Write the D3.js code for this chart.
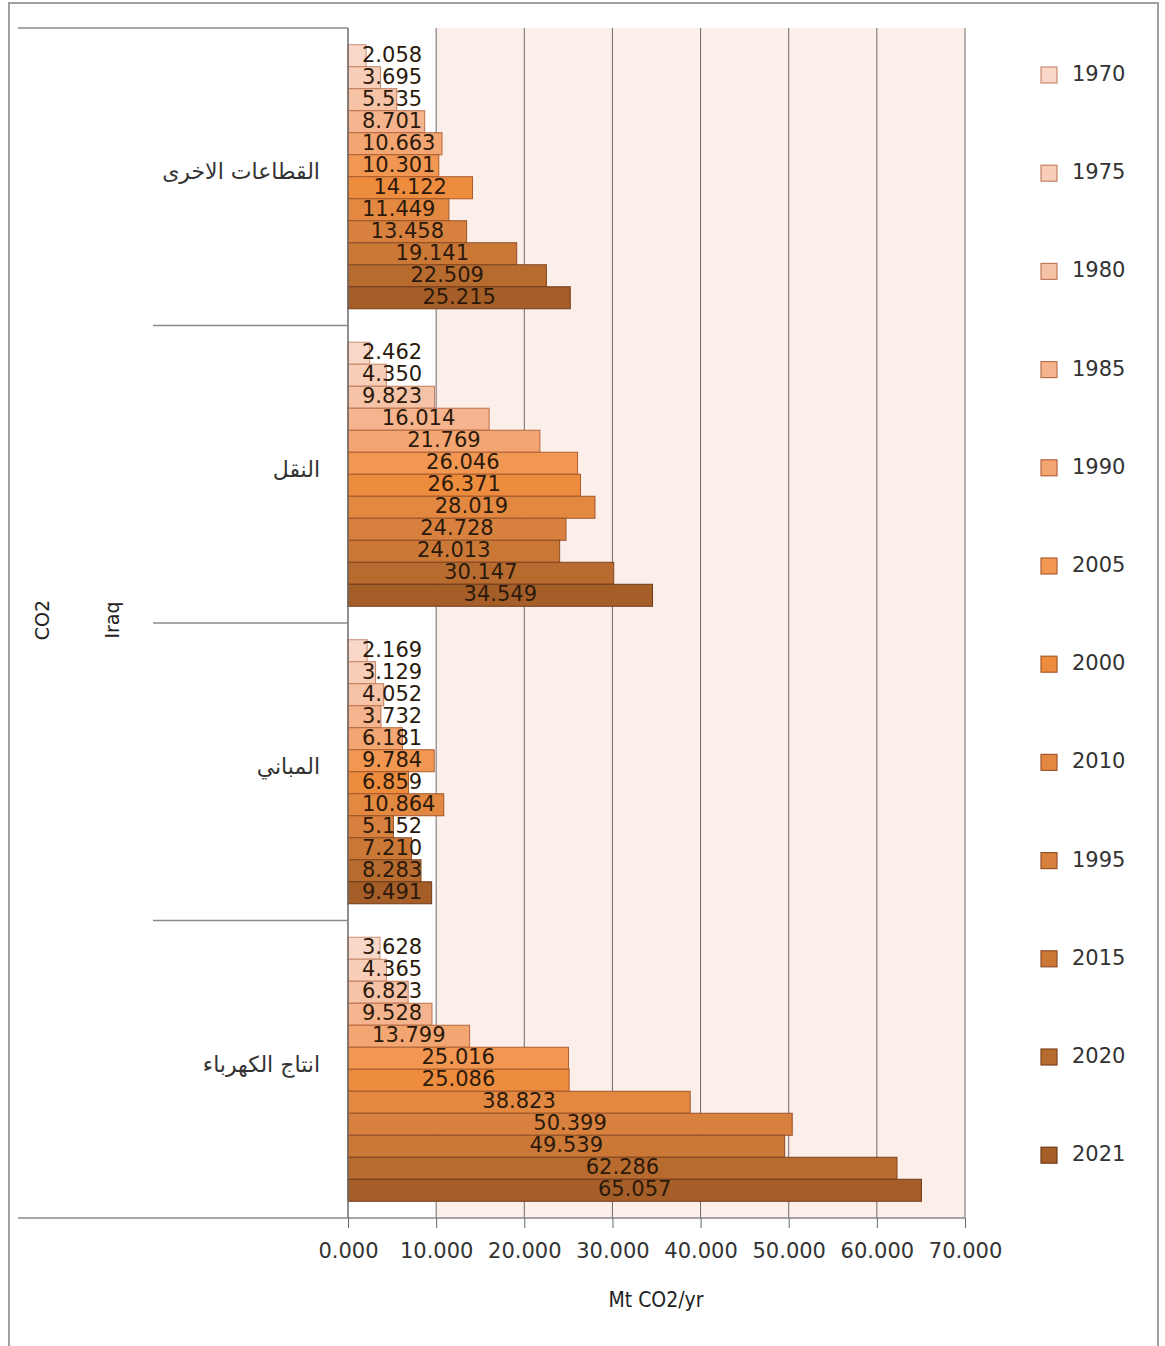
<!DOCTYPE html>
<html>
<head>
<meta charset="utf-8">
<script src="https://cdn.jsdelivr.net/npm/d3@7"></script>
<style>
  html, body { margin: 0; padding: 0; background: #fff; }
  svg { display: block; }
</style>
</head>
<body>
<svg id="chart" width="1165" height="1346"></svg>
<script>
// ---- data ----
const categories = ["القطاعات الاخرى", "النقل", "المباني", "انتاج الكهرباء"];
const years = ["1970", "1975", "1980", "1985", "1990", "2005", "2000", "2010", "1995", "2015", "2020", "2021"];
const otherSectors = [2.058, 3.695, 5.535, 8.701, 10.663, 10.301, 14.122, 11.449, 13.458, 19.141, 22.509, 25.215];
const transport    = [2.462, 4.350, 9.823, 16.014, 21.769, 26.046, 26.371, 28.019, 24.728, 24.013, 30.147, 34.549];
const buildings    = [2.169, 3.129, 4.052, 3.732, 6.181, 9.784, 6.859, 10.864, 5.152, 7.210, 8.283, 9.491];
const electricity  = [3.628, 4.365, 6.823, 9.528, 13.799, 25.016, 25.086, 38.823, 50.399, 49.539, 62.286, 65.057];
const seriesByCategory = [otherSectors, transport, buildings, electricity];
const xTicks = [0, 10, 20, 30, 40, 50, 60, 70];
const colors = ["#f9d8ca", "#f8ceb8", "#f6c3a7", "#f5b48d", "#f4a672", "#f29752",
                "#ee8c3e", "#e38840", "#d8813e", "#cb7837", "#b86b2e", "#a55e27"];
const strokes = ["#c98d70", "#c48466", "#bf7b5a", "#b9704c", "#b3663e", "#ad5e32",
                 "#a8592c", "#9f572c", "#98522a", "#8e4d27", "#7e4421", "#6f3b1c"];

// ---- layout ----
const svg = d3.select("#chart");
const plot = { left: 348, right: 965, top: 28, bottom: 1218 };

const x = d3.scaleLinear().domain([0, 70]).range([plot.left, plot.right]);
const yCat = d3.scaleBand().domain(categories).range([plot.top, plot.bottom]).paddingInner(0).paddingOuter(0);
const ySer = d3.scaleBand().domain(years).range([0, yCat.bandwidth()]).paddingInner(0).paddingOuter(0.76);
const color = d3.scaleOrdinal().domain(years).range(colors);
const stroke = d3.scaleOrdinal().domain(years).range(strokes);

// outer frame
svg.append("rect").attr("x", 9).attr("y", 3).attr("width", 1149).attr("height", 1360)
  .attr("fill", "none").attr("stroke", "#a0a0a0").attr("stroke-width", 2);

// plot background
svg.append("rect").attr("x", x(10)).attr("y", plot.top)
  .attr("width", x(70) - x(10)).attr("height", plot.bottom - plot.top)
  .attr("fill", "#fcefea");

// gridlines
svg.append("g").selectAll("line").data(xTicks.slice(1)).join("line")
  .attr("x1", d => x(d)).attr("x2", d => x(d))
  .attr("y1", plot.top).attr("y2", plot.bottom)
  .attr("stroke", "#6a6a6a").attr("stroke-width", 1);

// bars
const catData = categories.map((c, i) => ({ cat: c, vals: seriesByCategory[i] }));
const groups = svg.append("g").selectAll("g").data(catData).join("g")
  .attr("transform", d => `translate(0,${yCat(d.cat)})`);

groups.selectAll("rect").data(d => d.vals.map((v, j) => ({ year: years[j], v })))
  .join("rect")
  .attr("x", x(0))
  .attr("y", d => ySer(d.year))
  .attr("width", d => x(d.v) - x(0))
  .attr("height", ySer.bandwidth())
  .attr("fill", d => color(d.year))
  .attr("stroke", d => stroke(d.year))
  .attr("stroke-width", 1);

// bar labels
groups.selectAll("text").data(d => d.vals.map((v, j) => ({ year: years[j], v })))
  .join("text")
  .attr("font-family", "DejaVu Sans, sans-serif")
  .attr("font-size", 21)
  .attr("fill", "#2b1a0c")
  .attr("dominant-baseline", "central")
  .attr("y", d => ySer(d.year) + ySer.bandwidth() / 2 - 1)
  .text(d => d.v.toFixed(3))
  .each(function(d) {
    const w = this.getComputedTextLength();
    const center = (x(0) + x(d.v)) / 2;
    const left = Math.max(center - w / 2, x(0) + 14);
    d3.select(this).attr("x", left);
  });

// y-axis line & category separators
svg.append("line").attr("x1", plot.left).attr("x2", plot.left)
  .attr("y1", plot.top).attr("y2", plot.bottom).attr("stroke", "#6a6a6a").attr("stroke-width", 1.5);
svg.append("line").attr("x1", 18).attr("x2", plot.left)
  .attr("y1", plot.top).attr("y2", plot.top).attr("stroke", "#8a8a8a").attr("stroke-width", 1.5);
svg.append("g").selectAll("line").data(categories.slice(1)).join("line")
  .attr("x1", 153).attr("x2", plot.left)
  .attr("y1", d => yCat(d)).attr("y2", d => yCat(d))
  .attr("stroke", "#8a8a8a").attr("stroke-width", 1.5);
svg.append("line").attr("x1", 18).attr("x2", plot.right)
  .attr("y1", plot.bottom).attr("y2", plot.bottom).attr("stroke", "#8a8a8a").attr("stroke-width", 1.5);

// category labels
svg.append("g").selectAll("text").data(categories).join("text")
  .attr("x", 320)
  .attr("y", d => yCat(d) + yCat.bandwidth() / 2 - 5)
  .attr("text-anchor", "end")
  .attr("dominant-baseline", "central")
  .attr("font-family", "DejaVu Sans, sans-serif")
  .attr("font-size", 22)
  .attr("fill", "#333")
  .text(d => d);

// vertical labels
[["CO2", 42], ["Iraq", 112]].forEach(([t, cx]) => {
  svg.append("text")
    .attr("transform", `translate(${cx},620) rotate(-90)`)
    .attr("text-anchor", "middle")
    .attr("dominant-baseline", "central")
    .attr("font-family", "DejaVu Sans, sans-serif")
    .attr("font-size", 19)
    .attr("fill", "#222")
    .text(t);
});

// x axis
const xAxis = d3.axisBottom(x).tickValues(xTicks).tickSize(10).tickFormat(d3.format(".3f"));
const ax = svg.append("g").attr("transform", `translate(0,${plot.bottom})`).call(xAxis);
ax.select(".domain").remove();
ax.selectAll(".tick line").attr("stroke", "#6a6a6a");
ax.selectAll(".tick text")
  .attr("font-family", "DejaVu Sans, sans-serif")
  .attr("font-size", 21)
  .attr("fill", "#333")
  .attr("y", 25);

svg.append("text").attr("x", 656).attr("y", 1307)
  .attr("text-anchor", "middle")
  .attr("font-family", "DejaVu Sans Condensed, DejaVu Sans, sans-serif")
  .attr("font-size", 21).attr("fill", "#222")
  .text("Mt CO2/yr");

// legend
const leg = svg.append("g").selectAll("g").data(years).join("g")
  .attr("transform", (d, i) => `translate(1041,${75 + i * 98.2})`);
leg.append("rect").attr("x", 0).attr("y", -8).attr("width", 16).attr("height", 16)
  .attr("fill", d => color(d)).attr("stroke", d => stroke(d)).attr("stroke-width", 1.2);
leg.append("text").attr("x", 31).attr("y", -1)
  .attr("dominant-baseline", "central")
  .attr("font-family", "DejaVu Sans, sans-serif")
  .attr("font-size", 21).attr("fill", "#333")
  .text(d => d);
</script>
</body>
</html>
